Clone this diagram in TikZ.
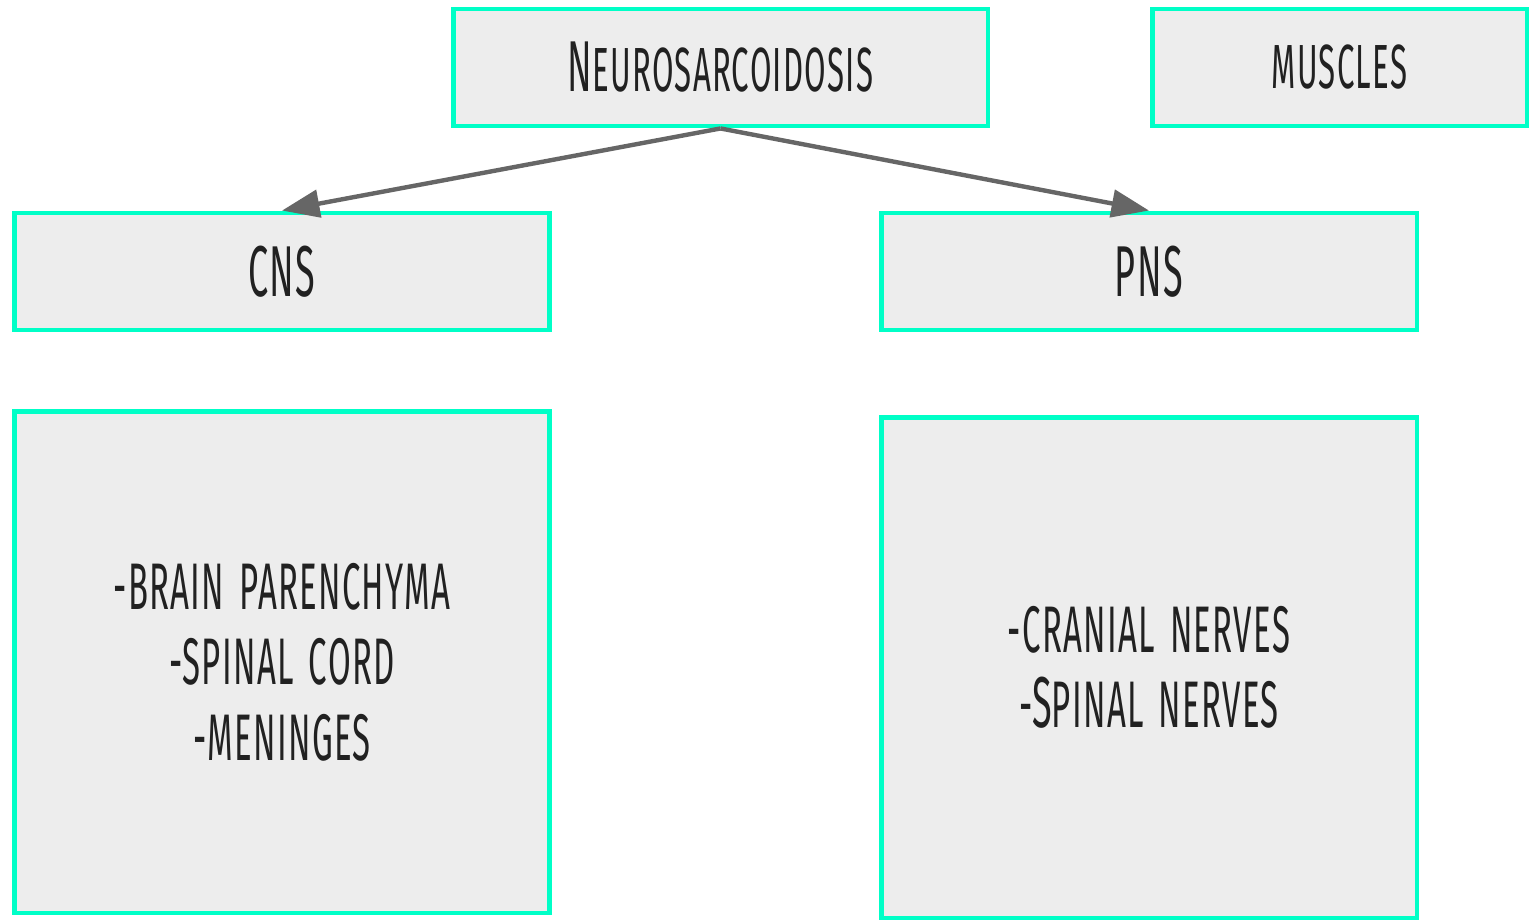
\documentclass[tikz,border=0pt]{standalone}
\usepackage{fontspec}
\usepackage{tikz}
\usetikzlibrary{arrows.meta,positioning}
\newfontfamily\mano{Fira Sans}[FakeStretch=0.5,LetterSpace=2,WordSpace=1.5]
\definecolor{menta}{rgb}{0.0,1.0,0.78}
\definecolor{grisclaro}{rgb}{0.93,0.93,0.93}
\definecolor{grisflecha}{rgb}{0.4,0.4,0.4}
\definecolor{tinta}{rgb}{0.13,0.13,0.13}
\newcommand{\capletter}[1]{{\fontsize{41}{43}\selectfont #1}}
\tikzset{
  caja/.style={
    draw=menta,
    fill=grisclaro,
    line width=2.8pt,
    text=tinta,
    align=center,
    inner sep=0pt,
    font=\mano\fontsize{35.5}{43}\selectfont
  },
  ancha/.style={
    caja,
    minimum width=10.72cm,
    minimum height=2.34cm
  },
  lista/.style={
    caja,
    minimum width=10.72cm,
    font=\mano\fontsize{37.5}{43}\selectfont
  },
  flecha/.style={
    -{Triangle[length=7.5mm,width=5.5mm]},
    line width=2.5pt,
    grisflecha
  }
}

\begin{document}
\begin{tikzpicture}[x=0.02cm,y=-0.02cm]
\useasboundingbox (0,0) rectangle (1537,923);
\node[ancha,minimum width=10.7cm] (neuro) at (720.5,67.5) {\capletter{N}EUROSARCOIDOSIS};
\node[caja,minimum width=7.5cm,minimum height=2.34cm] (musculos) at (1339.5,67.5) {MUSCLES};
\node[ancha] (cns) at (282,271.5) {\capletter{CNS}};
\node[ancha] (pns) at (1149,271.5) {\capletter{PNS}};
\node[lista,minimum height=10.04cm] (cnslista) at (282,662)
  {-BRAIN PARENCHYMA\\-SPINAL CORD\\-MENINGES};
\node[lista,minimum height=10.02cm] (pnslista) at (1149,667.5)
  {-CRANIAL NERVES\\-\capletter{S}PINAL NERVES};
\draw[flecha] (neuro.south) -- (cns.north);
\draw[flecha] (neuro.south) -- (pns.north);
\end{tikzpicture}
\end{document}
